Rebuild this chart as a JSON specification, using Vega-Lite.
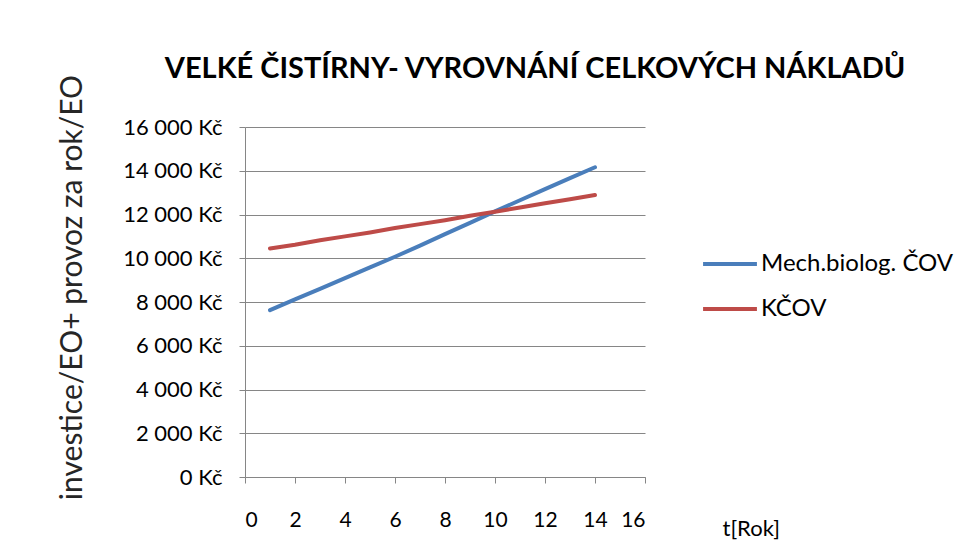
{
  "$schema": "https://vega.github.io/schema/vega-lite/v6.json",
  "autosize": "none",
  "width": 400,
  "height": 350,
  "padding": {"left": 245, "top": 127, "right": 328, "bottom": 74},
  "background": "white",
  "title": {
    "text": "VELKÉ ČISTÍRNY- VYROVNÁNÍ CELKOVÝCH NÁKLADŮ",
    "font": "Lato",
    "fontSize": 29,
    "fontWeight": "bold",
    "color": "#000000",
    "anchor": "middle",
    "frame": "group",
    "dx": 90,
    "dy": 16,
    "offset": 6
  },
  "config": {
    "font": "Lato",
    "view": {"stroke": null},
    "axis": {
      "domainColor": "#868686",
      "tickColor": "#868686",
      "gridColor": "#868686",
      "labelColor": "#000000",
      "titleColor": "#000000",
      "labelFont": "Lato",
      "titleFont": "Lato",
      "titleFontWeight": "normal"
    }
  },
  "data": {
    "values": [
      {"t": 1, "series": "Mech.biolog. ČOV", "cost": 7630},
      {"t": 2, "series": "Mech.biolog. ČOV", "cost": 8120},
      {"t": 3, "series": "Mech.biolog. ČOV", "cost": 8600},
      {"t": 4, "series": "Mech.biolog. ČOV", "cost": 9090},
      {"t": 5, "series": "Mech.biolog. ČOV", "cost": 9580},
      {"t": 6, "series": "Mech.biolog. ČOV", "cost": 10070},
      {"t": 7, "series": "Mech.biolog. ČOV", "cost": 10580},
      {"t": 8, "series": "Mech.biolog. ČOV", "cost": 11100},
      {"t": 9, "series": "Mech.biolog. ČOV", "cost": 11620},
      {"t": 10, "series": "Mech.biolog. ČOV", "cost": 12140},
      {"t": 11, "series": "Mech.biolog. ČOV", "cost": 12650},
      {"t": 12, "series": "Mech.biolog. ČOV", "cost": 13160},
      {"t": 13, "series": "Mech.biolog. ČOV", "cost": 13660},
      {"t": 14, "series": "Mech.biolog. ČOV", "cost": 14160},
      {"t": 1, "series": "KČOV", "cost": 10450},
      {"t": 2, "series": "KČOV", "cost": 10620},
      {"t": 3, "series": "KČOV", "cost": 10820},
      {"t": 4, "series": "KČOV", "cost": 11000},
      {"t": 5, "series": "KČOV", "cost": 11180},
      {"t": 6, "series": "KČOV", "cost": 11380},
      {"t": 7, "series": "KČOV", "cost": 11560},
      {"t": 8, "series": "KČOV", "cost": 11740},
      {"t": 9, "series": "KČOV", "cost": 11940},
      {"t": 10, "series": "KČOV", "cost": 12130},
      {"t": 11, "series": "KČOV", "cost": 12320},
      {"t": 12, "series": "KČOV", "cost": 12510},
      {"t": 13, "series": "KČOV", "cost": 12700},
      {"t": 14, "series": "KČOV", "cost": 12890}
    ]
  },
  "mark": {"type": "line", "strokeWidth": 4, "strokeCap": "round"},
  "encoding": {
    "x": {
      "field": "t",
      "type": "quantitative",
      "scale": {"domain": [0, 16], "nice": false},
      "axis": {
        "values": [0, 2, 4, 6, 8, 10, 12, 14, 16],
        "grid": false,
        "tickSize": 6,
        "labelFontSize": 21,
        "labelPadding": 26,
        "title": "t[Rok]",
        "titleFontSize": 22,
        "titleAnchor": "start",
        "titleAlign": "left",
        "titleX": 477,
        "titleY": 58,
        "titleBaseline": "alphabetic"
      }
    },
    "y": {
      "field": "cost",
      "type": "quantitative",
      "scale": {"domain": [0, 16000], "nice": false},
      "axis": {
        "values": [0, 2000, 4000, 6000, 8000, 10000, 12000, 14000, 16000],
        "grid": true,
        "tickSize": 6,
        "labelFontSize": 22,
        "labelPadding": 17,
        "labelExpr": "replace(format(datum.value, ','), ',', ' ') + ' Kč'",
        "title": "investice/EO+ provoz za rok/EO",
        "titleFontSize": 30,
        "titleX": -158,
        "titleY": 160,
        "titleAnchor": "middle",
        "titleColor": "#262626"
      }
    },
    "color": {
      "field": "series",
      "type": "nominal",
      "sort": ["Mech.biolog. ČOV", "KČOV"],
      "scale": {"domain": ["Mech.biolog. ČOV", "KČOV"], "range": ["#4A7EBB", "#BE4B48"]},
      "legend": {
        "title": null,
        "orient": "none",
        "legendX": 456,
        "legendY": 108,
        "symbolType": "stroke",
        "symbolSize": 2900,
        "symbolStrokeWidth": 4,
        "labelFontSize": 24,
        "labelColor": "#000000",
        "labelOffset": 2,
        "rowPadding": 4,
        "labelLimit": 300
      }
    }
  }
}
